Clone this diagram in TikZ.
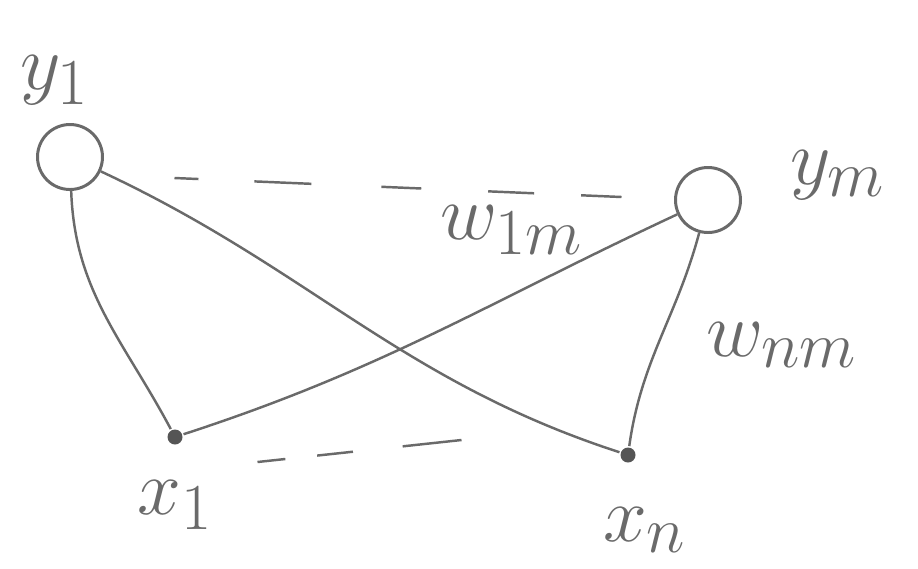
\documentclass[tikz,border=0pt]{standalone}
\usepackage{graphicx}
\usetikzlibrary{positioning}

\definecolor{pencil}{HTML}{6A6A6A}

\newcommand{\bigsym}[1]{\scalebox{1.8}{$#1$}}

\begin{document}
\begin{tikzpicture}[
    every node/.style={font=\Huge, text=pencil},
    line width=1.7pt,
    draw=pencil
]

\useasboundingbox (0,0) rectangle (18.36,-11.36);

\tikzset{
    outunit/.style={circle, draw=pencil, line width=1.7pt, minimum size=1.3cm, inner sep=0pt},
    inunit/.style={circle, fill=pencil!80!black, minimum size=0.3cm, inner sep=0pt},
    weight/.style={draw=pencil, line width=1.4pt},
    topgap/.style={draw=pencil, line width=1.4pt,
        dash pattern=on 0.48cm off 1.12cm on 1.14cm off 1.4cm on 0.8cm off 1.34cm on 0.92cm off 0.94cm on 0.86cm off 2cm},
    botgap/.style={draw=pencil, line width=1.4pt,
        dash pattern=on 0.56cm off 0.64cm on 0.72cm off 1.0cm on 1.22cm off 2cm}
}

\node[outunit] (y1) at (1.4,-3.14) {};
\node[outunit] (ym) at (14.16,-4.0) {};

\node[inunit] (x1) at (3.5,-8.74) {};
\node[inunit] (xn) at (12.56,-9.1) {};

\node (ly1) at (1.1,-1.6) {\bigsym{y_1}};
\node (lym) at (16.76,-3.5) {\bigsym{y_m}};

\node (lx1) at (3.5,-10.1) {\bigsym{x_1}};
\node (lxn) at (12.9,-10.6) {\bigsym{x_n}};

\node (w1m) at (10.24,-4.6) {\bigsym{w_{1m}}};
\node (wnm) at (15.64,-6.9) {\bigsym{w_{nm}}};

\draw[weight] (y1) to[out=-88, in=118] (x1);
\draw[weight] (y1) to[out=-25, in=162] (xn);

\draw[weight] (ym) to[out=-155, in=18] (x1);
\draw[weight] (ym) to[out=-105, in=82] (xn);

\draw[topgap] ([xshift=1.41cm,yshift=-0.42cm]y1.east) -- ([xshift=-1.05cm,yshift=0.06cm]ym.west);
\draw[botgap] ([xshift=1.47cm,yshift=-0.5cm]x1.east) -- ([xshift=-3.15cm,yshift=0.3cm]xn.west);

\end{tikzpicture}
\end{document}
